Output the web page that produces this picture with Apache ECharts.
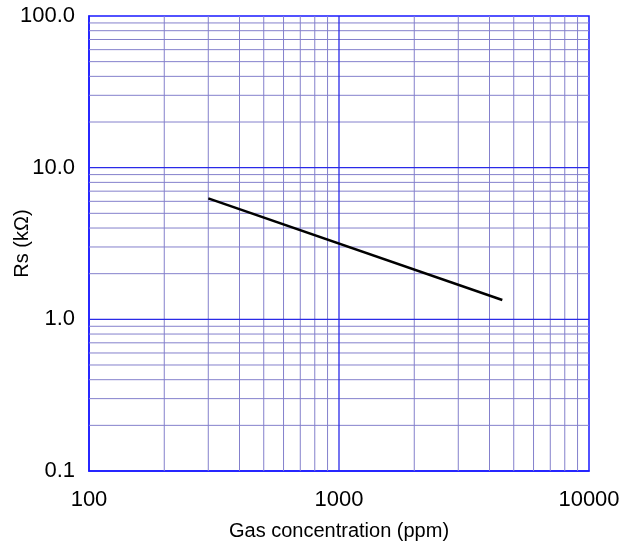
<!DOCTYPE html>
<html><head><meta charset="utf-8">
<script src="https://cdn.jsdelivr.net/npm/echarts@6/dist/echarts.min.js"></script>
<style>html,body{margin:0;padding:0;background:#fff}#c{width:632px;height:548px}</style>
</head><body><div id="c"></div>
<script>
var concentration = [300, 4500];
var resistance = [6.28, 1.34];
var xRange = [100, 10000];
var yRange = [0.1, 100];
var xMinorGrid = [200,300,400,500,600,700,800,900,2000,3000,4000,5000,6000,7000,8000,9000];
var yMinorGrid = [0.2,0.3,0.4,0.5,0.6,0.7,0.8,0.9,2,3,4,5,6,7,8,9,20,30,40,50,60,70,80,90];
var xMajorGrid = [1000];
var yMajorGrid = [1, 10];

var minorColor = '#8480cc';
var majorColor = '#2a2ae8';
var chart = echarts.init(document.getElementById('c'));
var series = [];
function gridSeries(points, color, width) {
  return {type: 'line', data: points, silent: true, symbol: 'none', showSymbol: false,
    lineStyle: {color: color, width: width}, emphasis: {disabled: true}, z: 1, animation: false};
}
xMinorGrid.forEach(function(v){ series.push(gridSeries([[v, yRange[0]], [v, yRange[1]]], minorColor, 1)); });
yMinorGrid.forEach(function(v){ series.push(gridSeries([[xRange[0], v], [xRange[1], v]], minorColor, 1)); });
xMajorGrid.forEach(function(v){ series.push(gridSeries([[v, yRange[0]], [v, yRange[1]]], majorColor, 1.3)); });
yMajorGrid.forEach(function(v){ series.push(gridSeries([[xRange[0], v], [xRange[1], v]], majorColor, 1.3)); });
series.push({type: 'line', data: concentration.map(function(x, i){return [x, resistance[i]];}),
  showSymbol: false, symbol: 'none', z: 5, lineStyle: {color: '#000', width: 2.5}});

var font = 'Liberation Sans, Arial, sans-serif';
chart.setOption({
  animation: false,
  grid: {left: 89, top: 16, right: 43, bottom: 77, outerBoundsMode: 'none', containLabel: false,
         show: true, borderColor: '#1a1aff', borderWidth: 1.5, backgroundColor: 'transparent'},
  xAxis: {
    type: 'log', logBase: 10, min: xRange[0], max: xRange[1],
    name: 'Gas concentration (ppm)', nameLocation: 'middle', nameGap: 50, nameMoveOverlap: false,
    nameTextStyle: {fontFamily: font, fontSize: 20, color: '#000'},
    axisLine: {show: true, lineStyle: {color: '#1a1aff', width: 1.5}},
    axisTick: {show: false},
    splitLine: {show: false},
    axisLabel: {fontFamily: font, fontSize: 22, color: '#000', margin: 18, formatter: function(v){return String(Math.round(v));}}
  },
  yAxis: {
    type: 'log', logBase: 10, min: yRange[0], max: yRange[1],
    name: 'Rs (kΩ)', nameLocation: 'middle', nameGap: 57, nameMoveOverlap: false,
    nameTextStyle: {fontFamily: font, fontSize: 20, color: '#000'},
    axisLine: {show: true, lineStyle: {color: '#1a1aff', width: 1.5}},
    axisTick: {show: false},
    splitLine: {show: false},
    axisLabel: {fontFamily: font, fontSize: 22, color: '#000', margin: 14, formatter: function(v){return (+v).toFixed(1);}}
  },
  series: series
});
</script></body></html>
